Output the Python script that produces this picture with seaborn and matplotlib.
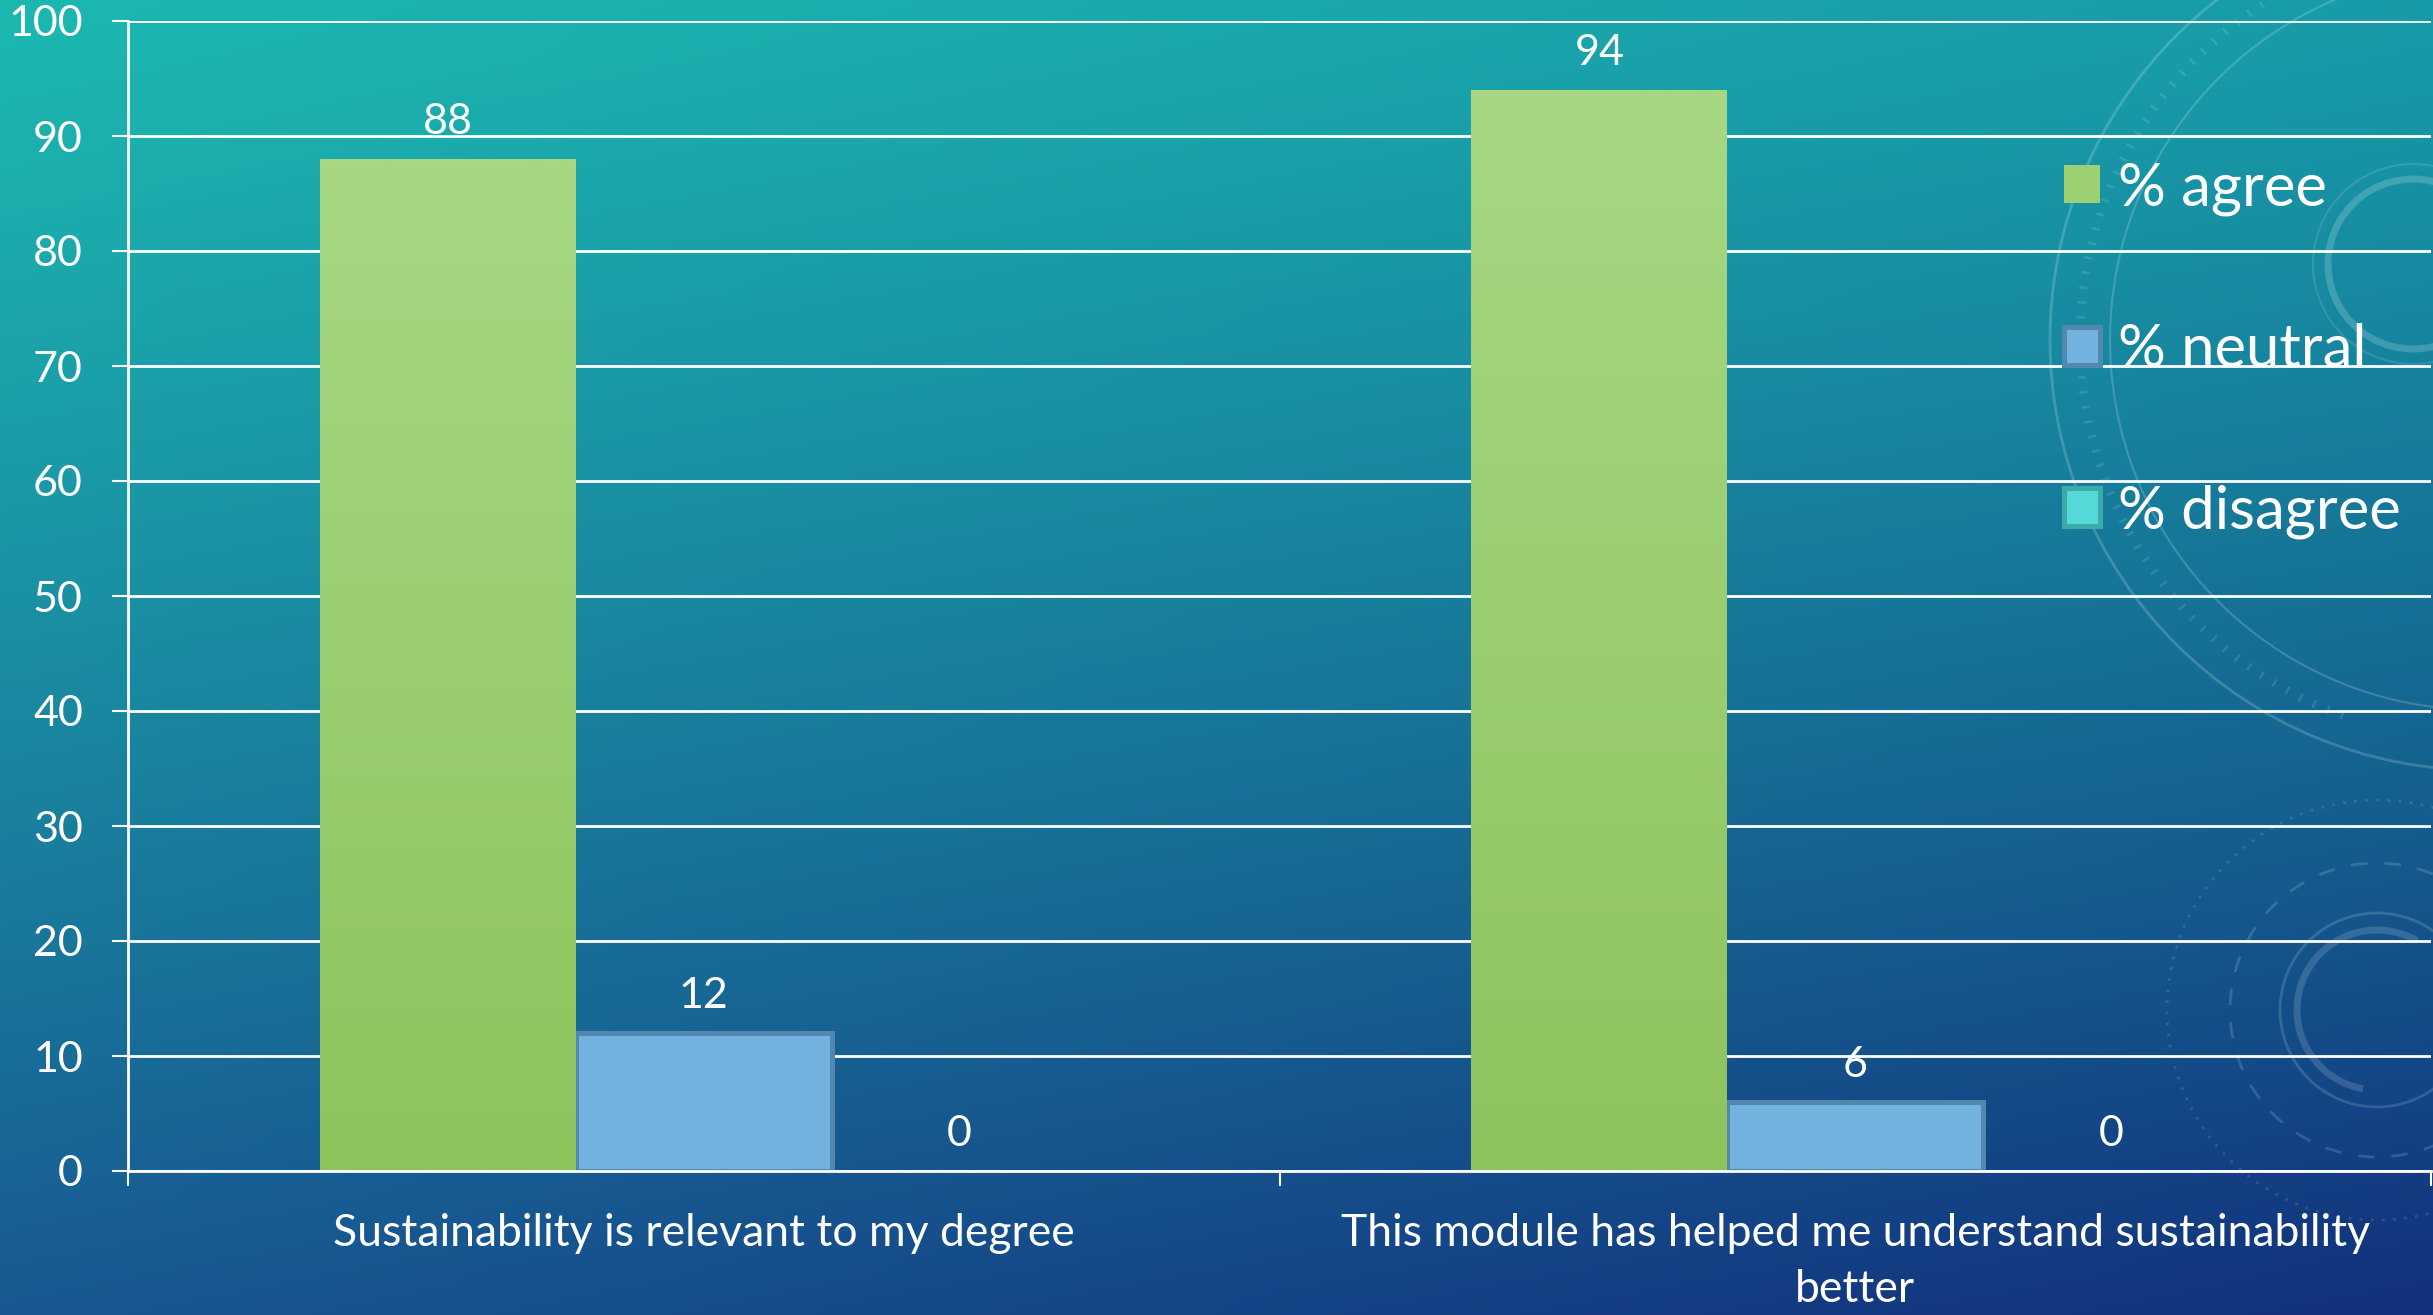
import numpy as np
import pandas as pd
import matplotlib
matplotlib.use("Agg")
import matplotlib.pyplot as plt
from matplotlib.patches import Patch, Arc
import seaborn as sns

# ---- data ----
categories = [
    "Sustainability is relevant to my degree",
    "This module has helped me understand sustainability\nbetter",
]
series = ["% agree", "% neutral", "% disagree"]
agree = [88, 94]
neutral = [12, 6]
disagree = [0, 0]
y_ticks = [0, 10, 20, 30, 40, 50, 60, 70, 80, 90, 100]

df = pd.DataFrame({
    "statement": categories * 3,
    "response": [series[0]] * 2 + [series[1]] * 2 + [series[2]] * 2,
    "percent": agree + neutral + disagree,
})

# ---- style ----
sns.set_theme(style="white")
plt.rcParams["font.family"] = ["Lato", "DejaVu Sans"]

W, H = 2433, 1315
fig = plt.figure(figsize=(W / 100, H / 100), dpi=100)

# slide background: teal to deep blue gradient with faint ornaments
bg = fig.add_axes([0, 0, 1, 1], zorder=-10)
yy, xx = np.mgrid[0:1:200j, 0:1:360j]
tl = np.array([28, 184, 176]) / 255
tr = np.array([24, 155, 168]) / 255
bl = np.array([24, 88, 146]) / 255
br = np.array([18, 48, 124]) / 255
t = yy[..., None] ** 1.15
s = xx[..., None]
img = (1 - t) * ((1 - s) * tl + s * tr) + t * ((1 - s) * bl + s * br)
bg.imshow(np.clip(img, 0, 1), extent=[0, W, H, 0], aspect="auto", interpolation="bicubic")
bg.set_xlim(0, W)
bg.set_ylim(H, 0)
bg.axis("off")

ornaments = [
    # (cx, cy, r, lw, linestyle, theta1, theta2, alpha)
    (2480, 340, 430, 2.0, "-", 90, 270, 0.18),
    (2480, 340, 370, 1.5, "-", 90, 260, 0.18),
    (2480, 340, 400, 6.0, (0, (0.3, 1.5)), 110, 250, 0.12),
    (2413, 264, 85, 5.0, "-", 60, 300, 0.18),
    (2413, 264, 100, 1.5, "-", 0, 360, 0.12),
    (2377, 1010, 97, 2.0, "-", 0, 360, 0.15),
    (2377, 1010, 80, 5.0, "-", 100, 300, 0.15),
    (2377, 1010, 147, 2.0, (0, (6, 6)), 0, 360, 0.15),
    (2377, 1010, 210, 2.0, (0, (1, 3)), 0, 360, 0.12),
    (810, -20, 75, 1.5, "-", 180, 360, 0.15),
    (810, -20, 58, 4.0, "-", 200, 320, 0.15),
    (-60, 1480, 290, 2.0, "-", 0, 90, 0.18),
    (-60, 1480, 230, 6.0, "-", 0, 90, 0.18),
    (-60, 1480, 360, 2.0, (0, (6, 6)), 0, 90, 0.15),
]
for cx, cy, r, lw, ls, t1, t2, a in ornaments:
    bg.add_patch(Arc((cx, cy), 2 * r, 2 * r, theta1=t1, theta2=t2,
                     color="white", lw=lw, ls=ls, alpha=a))

# ---- chart ----
ax = fig.add_axes([128 / W, 144 / H, (2431 - 128) / W, (1171 - 21) / H])
ax.set_facecolor("none")

palette = {series[0]: "#98cd6c", series[1]: "#72b2de", series[2]: "#54d8d8"}
sns.barplot(data=df, x="statement", y="percent", hue="response",
            palette=palette, width=2 / 3, gap=0, saturation=1,
            legend=False, ax=ax)

ax.set_xlim(-0.5, 1.5)
ax.set_ylim(0, 100)

# green bars get a vertical light-to-mid gradient
green_grad = np.linspace(0, 1, 64)[:, None, None]
top_c = np.array([167, 215, 131]) / 255
bot_c = np.array([141, 196, 92]) / 255
grad_img = (1 - green_grad) * top_c + green_grad * bot_c
for p in ax.containers[0].patches:
    x0, w, h = p.get_x(), p.get_width(), p.get_height()
    im = ax.imshow(grad_img, extent=[x0, x0 + w, 0, h], aspect="auto",
                   origin="upper", zorder=p.get_zorder(), interpolation="bilinear")
    im.set_clip_path(p)
    p.set_facecolor("none")
    p.set_linewidth(0)

for p in ax.containers[1].patches:
    p.set_edgecolor("#5287b0")
    p.set_linewidth(3.6)
for p in ax.containers[2].patches:
    p.set_edgecolor("#3ea9a9")
    p.set_linewidth(0)

ax.set_xlim(-0.5, 1.5)
ax.set_ylim(0, 100)

# value labels
for cont in ax.containers:
    ax.bar_label(cont, fmt="%d", padding=13, color="white", fontsize=31)

# grid, spines, ticks
ax.set_axisbelow(True)
ax.set_yticks(y_ticks)
ax.yaxis.grid(True, color="white", lw=2)
ax.xaxis.grid(False)
for side in ["top", "right"]:
    ax.spines[side].set_visible(False)
for side in ["left", "bottom"]:
    ax.spines[side].set_visible(True)
    ax.spines[side].set_color("white")
    ax.spines[side].set_linewidth(2)

ax.tick_params(axis="y", which="major", left=True, length=11.5, width=1.5,
               color="white", labelcolor="white", labelsize=31, pad=21)
ax.tick_params(axis="x", which="major", bottom=False, labelcolor="white",
               labelsize=32, pad=24)
ax.set_xticks([-0.5, 0.5, 1.5], minor=True)
ax.tick_params(axis="x", which="minor", bottom=True, length=11, width=1.5,
               color="white")
for lbl in ax.get_xticklabels():
    lbl.set_linespacing(1.45)
ax.set_xlabel("")
ax.set_ylabel("")

# legend
handles = [
    Patch(facecolor="#9dd070", edgecolor="none", label=series[0]),
    Patch(facecolor="#72b2de", edgecolor="#5287b0", linewidth=3.6, label=series[1]),
    Patch(facecolor="#54d8d8", edgecolor="#3ea9a9", linewidth=3.6, label=series[2]),
]
fig.legend(handles=handles, loc="upper left", bbox_to_anchor=(2064 / W, 1 - 161 / H),
           frameon=False, fontsize=43, labelcolor="white", handlelength=0.6,
           handleheight=0.6, handletextpad=0.3, labelspacing=1.8,
           borderpad=0, borderaxespad=0)

fig.savefig("out.png", dpi=100)
